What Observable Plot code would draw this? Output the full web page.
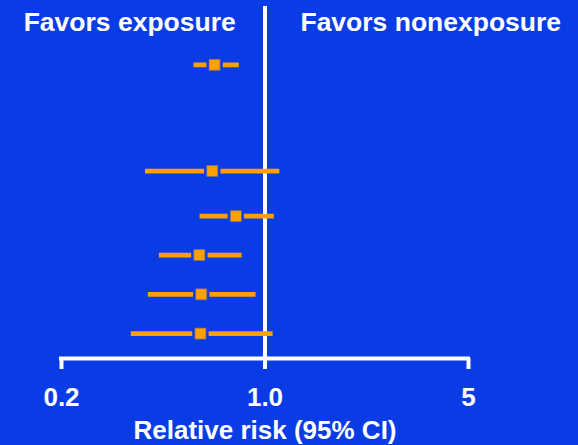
<!DOCTYPE html>
<html><head><meta charset="utf-8">
<script src="https://cdn.jsdelivr.net/npm/d3@7"></script>
<script src="https://cdn.jsdelivr.net/npm/@observablehq/plot@0.6"></script>
<style>html,body{margin:0;padding:0;background:#0a3ce6;}</style>
</head><body><div id="chart"></div>
<script>
const rows = [0, 2.73, 3.89, 4.89, 5.9, 6.91];
const estimates = [0.671, 0.659, 0.794, 0.595, 0.604, 0.600];
const lower = [0.568, 0.387, 0.596, 0.432, 0.396, 0.346];
const upper = [0.813, 1.12, 1.073, 0.831, 0.928, 1.062];
const xTicks = [0.2, 1, 5];
const xTickLabels = ["0.2", "1.0", "5"];
const headers = ["Favors exposure", "Favors nonexposure"];
const axisTitle = "Relative risk (95% CI)";

const data = rows.map((r, i) => ({row: r, est: estimates[i], lo: lower[i], hi: upper[i]}));
const BLUE = "#0a3ce6", ORANGE = "#ffa000", FONT = "'Liberation Sans', Arial, sans-serif";
const yMax = 7.55;

const chart = Plot.plot({
  width: 578, height: 445,
  marginLeft: 61, marginRight: 110, marginTop: 6, marginBottom: 87,
  style: {background: BLUE, color: "white", fontFamily: FONT, fontWeight: "bold", fontSize: "26px", overflow: "visible"},
  x: {type: "log", domain: [0.2, 5]},
  y: {domain: [-1.5, yMax], reverse: true, axis: null},
  marks: [
    Plot.ruleX([1], {stroke: "white", strokeWidth: 4}),
    Plot.ruleY([yMax], {x1: xTicks[0], x2: xTicks[2], stroke: "white", strokeWidth: 4, strokeLinecap: "square"}),
    Plot.axisX({ticks: xTicks, tickFormat: d => xTickLabels[xTicks.indexOf(d)], tickSize: 11, strokeWidth: 4,
      tickPadding: 18, fontSize: 26, fontWeight: "bold", label: null}),
    Plot.text([axisTitle], {frameAnchor: "bottom", lineAnchor: "top", dy: 62, text: d => d,
      fill: "white", fontSize: 26, fontWeight: "bold"}),
    Plot.link(data, {x1: "lo", x2: "hi", y1: "row", y2: "row", stroke: ORANGE, strokeWidth: 4.7}),
    Plot.dot(data, {x: "est", y: "row", symbol: "square", r: 9.25, fill: BLUE}),
    Plot.dot(data, {x: "est", y: "row", symbol: "square", r: 6.2, fill: ORANGE, stroke: "#7d6f80", strokeWidth: 0.7}),
    Plot.text(headers, {x: [0.343, 3.71], text: d => d, frameAnchor: "top", lineAnchor: "top", dy: 5.5,
      fill: "white", fontSize: 26.5, fontWeight: "bold"})
  ]
});
document.getElementById("chart").appendChild(chart);
</script>
</body></html>
